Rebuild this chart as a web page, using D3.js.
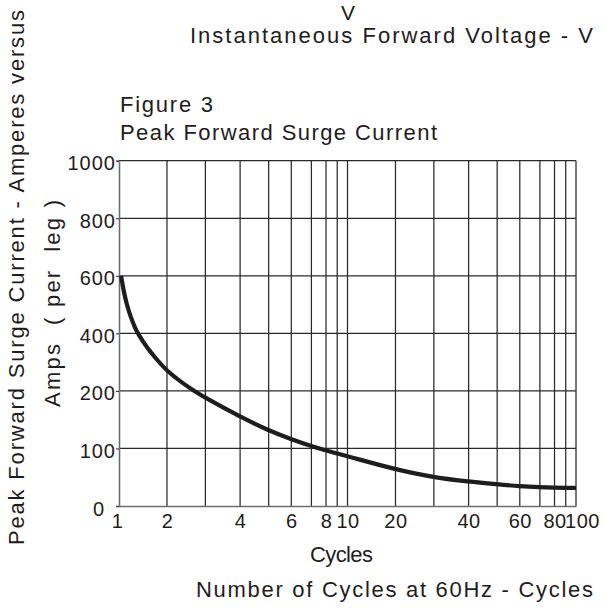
<!DOCTYPE html>
<html>
<head>
<meta charset="utf-8">
<script src="https://cdn.jsdelivr.net/npm/d3@7"></script>
<style>
  html, body { margin: 0; padding: 0; background: #fff; }
  svg { display: block; }
  text { font-family: Arial, "Liberation Sans", sans-serif; fill: #1f1c1d; }
</style>
</head>
<body>
<svg id="chart" width="605" height="608"></svg>
<script>
// ---- data ----
const gridCycles = [1, 2, 3, 4, 5, 6, 7, 8, 9, 10, 20, 30, 40, 50, 60, 70, 80, 90, 100];
const cycleLabels = [1, 2, 4, 6, 8, 10, 20, 40, 60, 80, 100];
const ampTicks = [0, 100, 200, 400, 600, 800, 1000];
const surgeCycles = [1.042, 1.094, 1.156, 1.24, 1.34, 1.392, 1.577, 1.781, 2, 2.425, 2.73, 3, 4, 5, 6, 7, 8, 9, 10, 20, 30, 40, 50, 60, 70, 80, 90, 100];
const surgeAmps   = [600, 550, 504, 458, 417, 400, 351, 310, 269, 225, 199, 188, 155, 131, 116, 104, 96.4, 91.2, 86.5, 63.4, 49.5, 42.2, 37.7, 34.2, 32.5, 31.8, 31.5, 31.3];
// position of the 1..10 grid lines within one decade of the chart's cycle axis
const decadeShape = [0, 0.21, 0.378, 0.53, 0.655, 0.754, 0.842, 0.906, 0.955, 1];

const topTitle = "V";
const xTopTitle = "Instantaneous Forward Voltage - V";
const figTitle1 = "Figure 3";
const figTitle2 = "Peak Forward Surge Current";
const yOuterTitle = "Peak Forward Surge Current - Amperes versus";
const yInnerTitle = "Amps  ( per  leg )";
const xTitle1 = "Cycles";
const xTitle2 = "Number of Cycles at 60Hz - Cycles";

// ---- layout ----
const plot = { left: 119, right: 576, top: 160.7, bottom: 506 };
const svg = d3.select("#chart");
const decW = (plot.right - plot.left) / 2;

const xRange = gridCycles.map(c => {
  if (c === 100) return plot.right;
  const d = Math.floor(Math.log10(c) + 1e-9);
  const k = Math.round(c / Math.pow(10, d)) - 1;
  return plot.left + (d + decadeShape[k]) * decW;
});
const x = d3.scaleLinear().domain(gridCycles).range(xRange);
const y = d3.scaleLinear().domain(ampTicks)
  .range(ampTicks.map((_, i) => plot.bottom - i * (plot.bottom - plot.top) / (ampTicks.length - 1)));

const FONT = "Arial, 'Liberation Sans', sans-serif";
const INK = "#1f1c1d";

// grid
const g = svg.append("g");
g.selectAll("line.v").data(gridCycles.slice(1)).join("line")
  .attr("x1", d => x(d)).attr("x2", d => x(d))
  .attr("y1", plot.top).attr("y2", plot.bottom)
  .attr("stroke", "#2a2a2a").attr("stroke-width", 1.25);
g.selectAll("line.h").data(ampTicks.slice(1)).join("line")
  .attr("x1", plot.left).attr("x2", plot.right)
  .attr("y1", d => y(d)).attr("y2", d => y(d))
  .attr("stroke", "#2a2a2a").attr("stroke-width", 1.25);

// left axis
const yAxis = d3.axisLeft(y).tickValues(ampTicks).tickSize(3).tickPadding(0).tickFormat(d => d);
const ya = svg.append("g").attr("transform", `translate(${plot.left},0)`).call(yAxis);
ya.select(".domain").attr("stroke", "#6d6d6d").attr("stroke-width", 1.6);
ya.selectAll(".tick line").attr("stroke", "#444").attr("stroke-width", 1.2);
ya.selectAll(".tick text").attr("font-size", 20).attr("dy", "0.45em")
  .attr("dx", d => d === 0 ? "-0.55em" : 0)
  .attr("font-family", FONT).attr("fill", INK).style("letter-spacing", "1px");

// bottom axis
const xAxis = d3.axisBottom(x).tickValues(cycleLabels).tickSize(0).tickPadding(8).tickFormat(d => d);
const xa = svg.append("g").attr("transform", `translate(0,${plot.bottom})`).call(xAxis);
xa.select(".domain").attr("stroke", "#6d6d6d").attr("stroke-width", 1.6);
xa.selectAll(".tick text").attr("font-size", 20).attr("dy", "0.71em")
  .attr("font-family", FONT).attr("fill", INK).style("letter-spacing", "0.5px")
  .attr("dx", d => d === 100 ? "0.3em" : (d === 1 ? "-0.1em" : 0));

// curve
const line = d3.line().x(d => x(d[0])).y(d => y(d[1])).curve(d3.curveBasis);
svg.append("path").datum(surgeCycles.map((c, i) => [c, surgeAmps[i]]))
  .attr("d", line).attr("fill", "none").attr("stroke", INK)
  .attr("stroke-width", 4.2).attr("stroke-linejoin", "round");

// texts
function txt(s, xx, yy, len, size) {
  const t = svg.append("text").attr("x", xx).attr("y", yy).attr("font-size", size || 22)
    .style("white-space", "pre").text(s);
  if (len) t.attr("textLength", len).attr("lengthAdjust", "spacing");
  return t;
}
txt(topTitle, 341, 19.5, null, 21);
txt(xTopTitle, 190, 42.7, 403);
txt(figTitle1, 120, 112.3, 93);
txt(figTitle2, 120, 140, 317);
txt(xTitle1, 310, 561.7, 63);
txt(xTitle2, 196, 597, 397);

svg.append("text").attr("transform", "translate(24,545) rotate(-90)")
  .attr("font-size", 22).attr("textLength", 535).attr("lengthAdjust", "spacing")
  .text(yOuterTitle);
svg.append("text").attr("transform", "translate(60,407) rotate(-90)")
  .attr("font-size", 22).attr("textLength", 207).attr("lengthAdjust", "spacing")
  .style("white-space", "pre").text(yInnerTitle);
</script>
</body>
</html>
